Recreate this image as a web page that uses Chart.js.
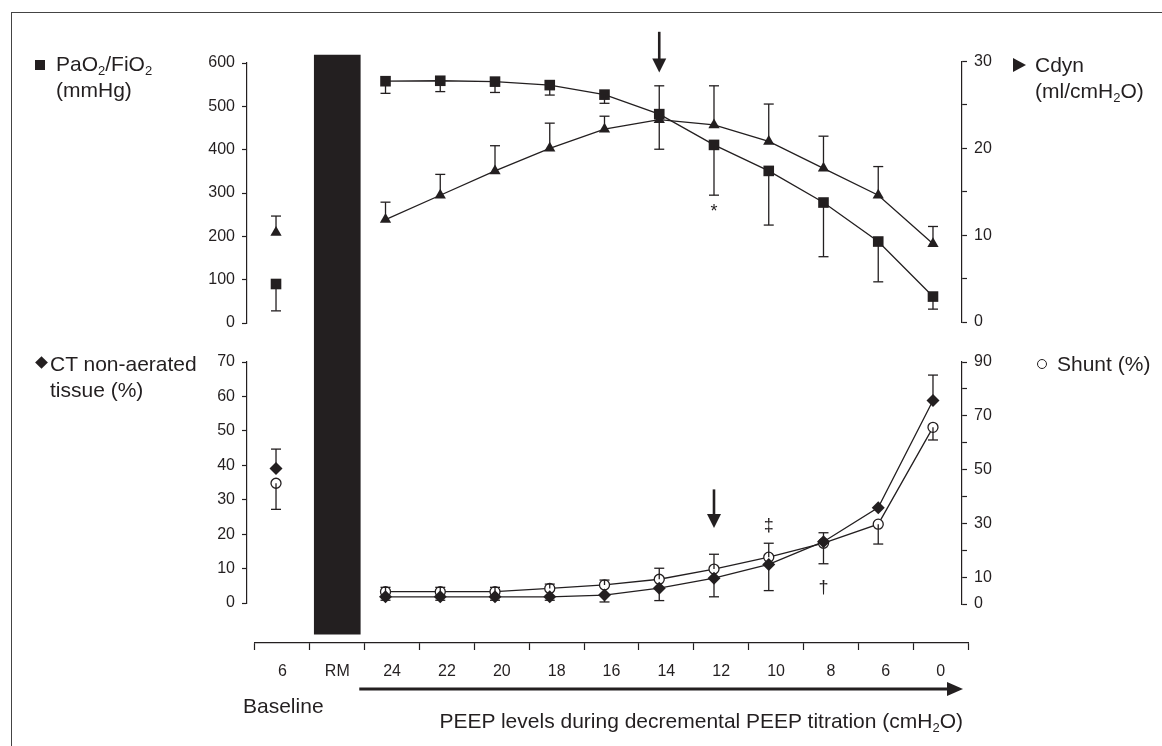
<!DOCTYPE html>
<html>
<head>
<meta charset="utf-8">
<title>PEEP titration</title>
<script src="https://cdn.jsdelivr.net/npm/chart.js@4.4.1/dist/chart.umd.min.js"></script>
<style>
  body { margin: 0; background: #fff; }
  #wrap { position: relative; width: 1162px; height: 746px; overflow: hidden;
          font-family: "Liberation Sans", Arial, sans-serif; color: #231f20; }
  #chart { position: absolute; left: 0; top: 0; }
  #frame { position: absolute; left: 11px; top: 12px; right: -5px; bottom: -5px;
           border-left: 1.5px solid #444; border-top: 1.5px solid #444; }
  .lbl { position: absolute; font-size: 21px; line-height: 26px; white-space: nowrap; }
  .lbl sub { font-size: 0.62em; vertical-align: -0.28em; line-height: 0; }
  .sq { position: absolute; width: 10px; height: 10px; background: #231f20; }
  .tri { position: absolute; width: 0; height: 0; border-top: 7px solid transparent;
         border-bottom: 7px solid transparent; border-left: 13px solid #231f20; }
  .dia { position: absolute; width: 9px; height: 9px; background: #231f20; transform: rotate(45deg); }
  .circ { position: absolute; width: 8px; height: 8px; border: 1.3px solid #231f20; border-radius: 50%; }
</style>
</head>
<body>
<div id="wrap">
  <canvas id="chart" width="1162" height="746"></canvas>
  <div id="frame"></div>

  <div class="sq" style="left:35px; top:60px"></div>
  <div class="lbl" style="left:56px; top:51px">PaO<sub>2</sub>/FiO<sub>2</sub><br>(mmHg)</div>

  <div class="tri" style="left:1013px; top:58px"></div>
  <div class="lbl" style="left:1035px; top:52px">Cdyn<br>(ml/cmH<sub>2</sub>O)</div>

  <div class="dia" style="left:37px; top:358px"></div>
  <div class="lbl" style="left:50px; top:351px">CT non-aerated<br>tissue (%)</div>

  <div class="circ" style="left:1037px; top:359px"></div>
  <div class="lbl" style="left:1057px; top:351px">Shunt (%)</div>

  <div class="lbl" style="left:243px; top:693px">Baseline</div>
  <div class="lbl" style="right:199px; top:708px">PEEP levels during decremental PEEP titration (cmH<sub>2</sub>O)</div>
</div>

<script>
const ink = '#231f20';

// categories: baseline, recruitment manoeuvre, then decremental PEEP steps
const cats = ['6', 'RM', '24', '22', '20', '18', '16', '14', '12', '10', '8', '6', '0'];

// top panel
const pao2     = [90, null, 558, 559, 557, 549, 527, 482, 411, 351, 278, 188, 61];
const pao2Down = [62, null, 28, 25, 25, 23, 20, 81, 116, 125, 125, 93, 29];
const cdyn     = [10.3, null, 11.8, 14.6, 17.4, 20.0, 22.2, 23.3, 22.7, 20.8, 17.7, 14.6, 9.0];
const cdynUp   = [1.9, null, 2.0, 2.4, 2.9, 2.9, 1.5, 3.9, 4.5, 4.3, 3.7, 3.3, 2.0];

// bottom panel
const ct        = [39.1, null, 1.8, 1.8, 1.8, 1.8, 2.3, 4.3, 7.2, 11.2, 17.8, 27.7, 58.8];
const ctUp      = [5.6, null, 0, 0, 0, 0, 0, 0, 0, 0, 0, 0, 7.4];
const ctDown    = [0, null, 1, 1, 1, 1, 2, 3.6, 5.4, 7.6, 6.4, 0, 0];
const shunt     = [44.9, null, 4.6, 4.6, 4.6, 5.8, 7.1, 9.2, 13.0, 17.4, 22.6, 29.7, 65.7];
const shuntUp   = [0, null, 1.6, 1.6, 1.6, 1.6, 1.8, 4.1, 5.5, 5.2, 3.9, 0, 0];
const shuntDown = [9.7, null, 0, 0, 0, 0, 0, 0, 0, 0, 0, 7.4, 4.7];

const none = cats.map(() => 0);

// RM band, in PaO2 units so it runs through both panels
const rmBand = [-718, 618];

// significance marks and "best PEEP" arrows
const marks = [
  { text: '*', at: 8, axis: 'y1', v: 255 },
  { text: '\u2021', at: 9, axis: 'y3', v: 22.4 },
  { text: '\u2020', at: 10, axis: 'y3', v: 4.4 }
];
const downArrows = [
  { at: 7, axis: 'y1', from: 672, to: 578 },
  { at: 8, axis: 'y3', from: 33, to: 21.8 }
];

function pts(vals) {
  return vals.map((v, i) => ({ x: i, y: v }));
}

function whiskers(vals, up, down) {
  const segs = [], caps = [];
  vals.forEach((v, i) => {
    if (v === null) return;
    [up[i], -down[i]].forEach(e => {
      if (!e) return;
      segs.push({ x: i, y: v }, { x: i, y: v + e }, { x: i, y: null });
      caps.push({ x: i, y: v + e });
    });
  });
  return { segs, caps };
}

function series(vals, axis, style) {
  return Object.assign({
    type: 'line', xAxisID: 'xp', yAxisID: axis, data: pts(vals),
    borderColor: ink, borderWidth: 1.3, tension: 0, spanGaps: false, clip: false,
    pointBackgroundColor: ink, pointBorderColor: ink, pointBorderWidth: 0, order: 2
  }, style);
}

function errSets(vals, up, down, axis) {
  const w = whiskers(vals, up, down);
  return [
    { type: 'line', xAxisID: 'xp', yAxisID: axis, data: w.segs, borderColor: ink, borderWidth: 1.3,
      pointRadius: 0, spanGaps: false, clip: false, order: 1 },
    { type: 'line', xAxisID: 'xp', yAxisID: axis, data: w.caps, showLine: false, clip: false,
      pointStyle: 'line', pointRadius: 5, pointBorderColor: ink, pointBorderWidth: 1.3, order: 1 }
  ];
}

function yAxis(side, max, step, show) {
  return {
    type: 'linear', position: side, stack: side, min: 0, max: max,
    grid: { drawOnChartArea: false, tickLength: 5, tickColor: ink, tickWidth: 1.2 },
    border: { color: ink, width: 1.2 },
    ticks: { stepSize: step, color: ink, font: { size: 16 }, padding: 7, autoSkip: false,
             callback: v => show(v) ? v : '' },
    afterFit: s => { s.width = 60; }
  };
}

// put each panel at its own height and shift the category axis like the print
const panelFit = {
  id: 'panelFit',
  afterLayout(chart) {
    const s = chart.scales;
    const place = (sc, top, bottom) => {
      sc.top = top; sc.bottom = bottom; sc.height = bottom - top; sc.configure();
    };
    place(s.y1, 63, 323);
    place(s.y2, 61.5, 322);
    place(s.y3, 362, 603);
    place(s.y4, 362, 604);
    s.x.left = chart.chartArea.left + 8;
    s.x.right = chart.chartArea.right + 6;
    s.x.width = s.x.right - s.x.left;
    s.x.configure();
  }
};

const notes = {
  id: 'notes',
  afterDatasetsDraw(chart) {
    const { ctx, scales } = chart;
    ctx.save();
    ctx.fillStyle = ink;
    ctx.strokeStyle = ink;

    downArrows.forEach(a => {
      const x = scales.xp.getPixelForValue(a.at);
      const y0 = scales[a.axis].getPixelForValue(a.from);
      const y1 = scales[a.axis].getPixelForValue(a.to);
      ctx.lineWidth = 2.6;
      ctx.beginPath(); ctx.moveTo(x, y0); ctx.lineTo(x, y1 - 10); ctx.stroke();
      ctx.beginPath();
      ctx.moveTo(x - 7, y1 - 14); ctx.lineTo(x + 7, y1 - 14); ctx.lineTo(x, y1);
      ctx.closePath(); ctx.fill();
    });

    ctx.font = '18px "Liberation Sans", Arial, sans-serif';
    ctx.textAlign = 'center';
    ctx.textBaseline = 'middle';
    marks.forEach(m => {
      ctx.fillText(m.text, scales.xp.getPixelForValue(m.at), scales[m.axis].getPixelForValue(m.v));
    });

    // titration arrow under the axis
    const y = scales.x.bottom + 6;
    const x0 = scales.x.getPixelForValue(1) + 22;
    const x1 = scales.x.right - 5;
    ctx.lineWidth = 3;
    ctx.beginPath(); ctx.moveTo(x0, y); ctx.lineTo(x1 - 12, y); ctx.stroke();
    ctx.beginPath();
    ctx.moveTo(x1 - 16, y - 7); ctx.lineTo(x1, y); ctx.lineTo(x1 - 16, y + 7);
    ctx.closePath(); ctx.fill();
    ctx.restore();
  }
};

Chart.defaults.font.family = '"Liberation Sans", Arial, sans-serif';

new Chart(document.getElementById('chart'), {
  type: 'line',
  data: {
    labels: cats,
    datasets: [
      { type: 'bar', xAxisID: 'x', yAxisID: 'y1', data: [{ x: 'RM', y: rmBand }],
        backgroundColor: ink, barThickness: 46, grouped: false, clip: false, order: 5 },

      series(pao2, 'y1', { pointStyle: 'rect', pointRadius: 7.5 }),
      ...errSets(pao2, none, pao2Down, 'y1'),
      series(cdyn, 'y2', { pointStyle: 'triangle', pointRadius: 6.5 }),
      ...errSets(cdyn, cdynUp, none, 'y2'),

      series(ct, 'y3', { pointStyle: 'rectRot', pointRadius: 6.5 }),
      ...errSets(ct, ctUp, ctDown, 'y3'),
      series(shunt, 'y4', { pointStyle: 'circle', pointRadius: 5, pointBackgroundColor: '#fff',
                            pointBorderWidth: 1.3, order: 3 }),
      ...errSets(shunt, shuntUp, shuntDown, 'y4')
    ]
  },
  options: {
    responsive: false,
    devicePixelRatio: 1,
    animation: false,
    events: [],
    layout: { padding: { left: 187, right: 140, top: 55, bottom: 63 } },
    plugins: { legend: { display: false }, tooltip: { enabled: false } },
    scales: {
      x: {
        type: 'category', position: 'bottom', offset: true,
        grid: { offset: true, drawOnChartArea: false, tickLength: 7, tickColor: ink, tickWidth: 1.2 },
        border: { color: ink, width: 1.2 },
        ticks: { color: ink, font: { size: 16 }, padding: 12, maxRotation: 0, autoSkip: false },
        afterFit: s => { s.height = 40; }
      },
      xp: { type: 'linear', display: false, min: -0.53, max: 12.53 },
      y1: yAxis('left', 600, 100, () => true),
      y2: yAxis('right', 30, 5, v => v % 10 === 0),
      y3: yAxis('left', 70, 10, () => true),
      y4: yAxis('right', 90, 10, v => v === 0 || v % 20 === 10)
    }
  },
  plugins: [panelFit, notes]
});
</script>
</body>
</html>
